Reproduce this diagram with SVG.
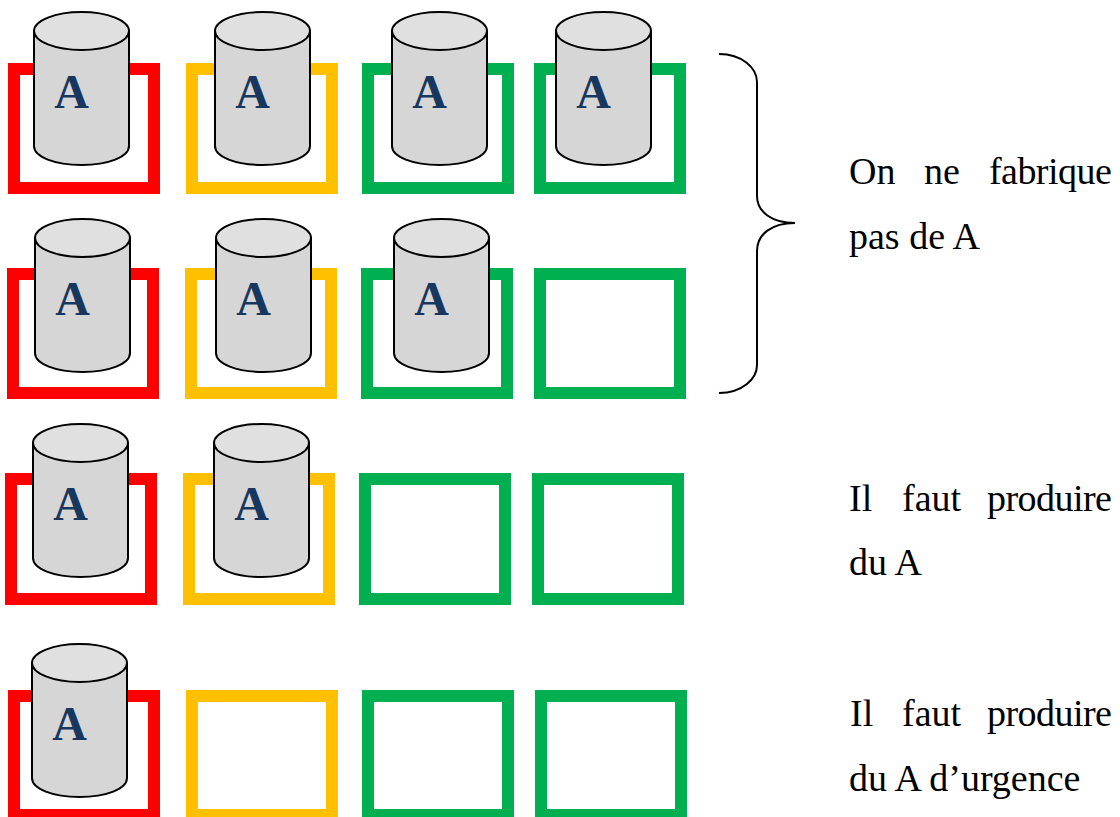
<svg xmlns="http://www.w3.org/2000/svg" width="1120" height="817" viewBox="0 0 1120 817">
<style>
.r{fill:none;stroke-width:12}
.red{stroke:#FF0000}.amb{stroke:#FFC000}.grn{stroke:#00B050}
.body{fill:#D6D6D6;stroke:#000;stroke-width:2}
.top{fill:#E0E0E0;stroke:#000;stroke-width:2}
.a{font-family:"Liberation Serif",serif;font-weight:bold;font-size:48px;fill:#17375E}
.t{font-family:"Liberation Serif",serif;font-size:38px;fill:#000}
.n{letter-spacing:-0.55px}
.brace{fill:none;stroke:#000;stroke-width:2}
</style>
<defs>
<g id="cyl">
<path class="body" d="M0 19V134C0 145 21 153 47.500 153S95 145 95 134V19Z"/>
<ellipse class="top" cx="47.500" cy="19" rx="47.500" ry="19"/>
<text class="a" x="20.300" y="96">A</text>
</g>
</defs>
<g id="row1">
<g id="n1"><rect class="r red" x="14" y="69" width="140" height="119"/><use href="#cyl" x="34" y="12"/></g>
<g id="n2"><rect class="r amb" x="192" y="69" width="140" height="119"/><use href="#cyl" x="215" y="12"/></g>
<g id="n3"><rect class="r grn" x="368" y="69" width="140" height="119"/><use href="#cyl" x="392" y="12"/></g>
<g id="n4"><rect class="r grn" x="540" y="69" width="140" height="119"/><use href="#cyl" x="556" y="12"/></g>
</g>
<g id="row2">
<g id="n5"><rect class="r red" x="13" y="274" width="140" height="119"/><use href="#cyl" x="35" y="219"/></g>
<g id="n6"><rect class="r amb" x="191" y="274" width="140" height="119"/><use href="#cyl" x="216" y="219"/></g>
<g id="n7"><rect class="r grn" x="367" y="274" width="140" height="119"/><use href="#cyl" x="394" y="219"/></g>
<g id="n8"><rect class="r grn" x="540" y="274" width="140" height="119"/></g>
</g>
<g id="row3">
<g id="n9"><rect class="r red" x="11" y="479" width="140" height="120"/><use href="#cyl" x="33" y="424"/></g>
<g id="n10"><rect class="r amb" x="189" y="479" width="140" height="120"/><use href="#cyl" x="214" y="424"/></g>
<g id="n11"><rect class="r grn" x="365" y="479" width="140" height="120"/></g>
<g id="n12"><rect class="r grn" x="538" y="479" width="140" height="120"/></g>
</g>
<g id="row4">
<g id="n13"><rect class="r red" x="14" y="696" width="140" height="119"/><use href="#cyl" x="32" y="644"/></g>
<g id="n14"><rect class="r amb" x="192" y="696" width="140" height="119"/></g>
<g id="n15"><rect class="r grn" x="368" y="696" width="140" height="119"/></g>
<g id="n16"><rect class="r grn" x="541" y="696" width="140" height="119"/></g>
</g>
<g id="connectors">
<path class="brace" d="M719 54C742 54 757 68 757 82V196C757 212 772 223 795 223C772 223 757 234 757 251V365C757 379 742 393 719 393"/>
</g>
<g id="labels">
<text class="t" y="184"><tspan x="849">On</tspan><tspan x="924">ne</tspan><tspan class="n" x="989">fabrique</tspan></text>
<text class="t" x="849" y="249">pas de A</text>
<text class="t" y="511"><tspan x="849">Il</tspan><tspan x="902">faut</tspan><tspan class="n" x="987">produire</tspan></text>
<text class="t" x="849" y="575">du A</text>
<text class="t" y="726"><tspan x="850">Il</tspan><tspan x="902">faut</tspan><tspan class="n" x="987">produire</tspan></text>
<text class="t" x="849" y="791">du A d’urgence</text>
</g>
</svg>
